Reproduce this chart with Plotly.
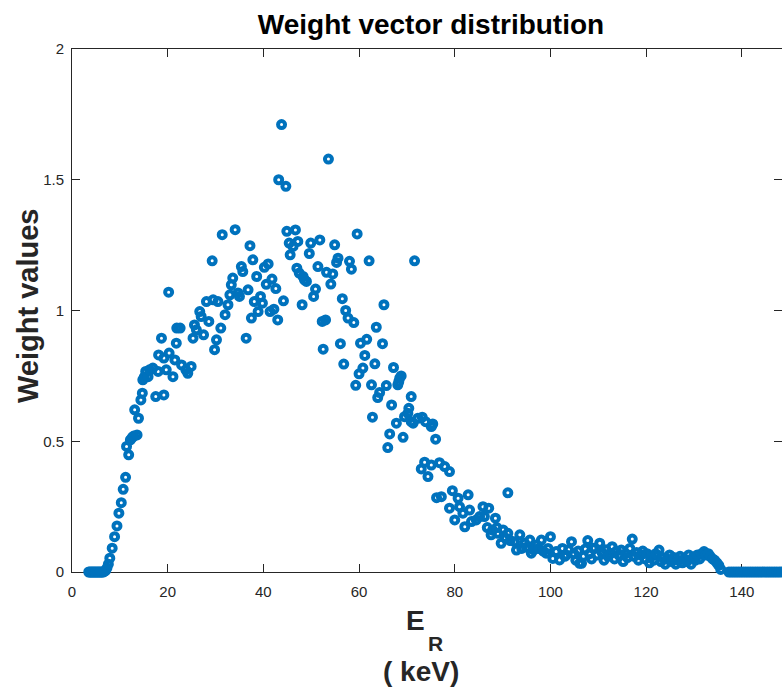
import plotly.graph_objects as go

# ---------------- data ----------------
# energy (keV) and weight value, segment by segment
rise_x = [3.5, 3.75, 4.0, 4.25, 4.5, 4.75, 5.0, 5.25, 5.5, 5.75, 6.0, 6.25, 6.5, 6.75, 7.0,
          7.3, 7.6, 7.9, 8.4, 8.9, 9.4, 9.8, 10.3, 10.7, 11.2, 11.4, 11.85, 12.2, 12.6, 12.9,
          13.1, 13.6, 13.9, 14.4, 14.7, 14.8, 15.1, 15.4, 15.9, 16.2, 16.9, 17.5, 18.0, 18.1,
          18.7, 19.2, 19.2, 19.7, 20.2, 20.3, 21.1, 21.5, 21.8, 21.9, 22.6, 22.9, 23.8, 24.2,
          24.9, 25.3, 25.6, 26.0, 26.7, 27.0, 27.5, 28.1, 28.6, 29.3, 29.5, 29.8, 30.2, 30.5,
          31.1, 31.4, 32.0, 32.6, 33.0, 33.3, 33.6, 34.1, 34.7, 35.0, 35.4, 35.7, 36.4, 36.8]
rise_w = [0, 0, 0, 0, 0, 0, 0, 0, 0, 0, 0, 0, 0, 0.002, 0.005,
          0.015, 0.03, 0.053, 0.091, 0.135, 0.176, 0.225, 0.265, 0.316, 0.362, 0.48, 0.448, 0.505, 0.515, 0.52,
          0.62, 0.524, 0.588, 0.658, 0.684, 0.735, 0.745, 0.767, 0.747, 0.773, 0.78, 0.671, 0.767, 0.83,
          0.894, 0.677, 0.818, 0.773, 1.07, 0.837, 0.747, 0.811, 0.875, 0.933, 0.933, 0.792, 0.773, 0.76,
          0.786, 0.894, 0.945, 0.926, 0.996, 0.977, 0.907, 1.034, 0.958, 1.19, 1.041, 0.85, 0.888, 1.034,
          0.933, 1.29, 0.984, 1.022, 1.06, 1.098, 1.124, 1.309, 1.067, 1.054, 1.168, 1.149, 0.894, 1.079]

peak_x = [37.2, 37.5, 37.8, 38.1, 38.6, 38.9, 39.4, 39.8, 40.2, 40.6, 41.0, 41.4, 41.8, 42.2, 42.6,
          43.0, 43.2, 43.8, 44.2, 44.7, 44.9, 45.4, 45.6, 46.2, 46.7, 47.0, 47.2, 47.5, 48.1, 48.3,
          48.6, 49.0, 49.6, 49.9, 50.5, 50.9, 51.4, 51.8, 52.3, 52.5, 53.0, 53.2, 53.6, 54.1, 54.5,
          54.9, 55.3, 55.6, 56.1, 56.5, 56.8, 57.2, 57.7, 58.0, 58.4, 58.9, 59.3, 59.6, 60.0, 60.3,
          60.8, 61.2, 61.6, 62.1, 62.6, 62.8, 63.3, 63.6, 63.9, 64.3, 64.9, 65.2, 65.7, 66.0, 66.4,
          66.8, 67.2, 67.8, 68.1, 68.3, 68.5, 68.8, 69.2, 69.5, 70.2, 70.4, 70.9, 70.9, 71.3, 71.6]
peak_w = [1.248, 0.971, 1.194, 1.034, 1.13, 0.996, 1.054, 1.028, 1.165, 1.1, 1.178, 0.996, 1.12, 1.005, 1.084,
          0.964, 1.50, 1.711, 1.037, 1.475, 1.303, 1.258, 1.213, 1.245, 1.308, 1.162, 1.264, 1.143, 1.022, 1.13,
          1.117, 1.111, 1.218, 1.258, 1.054, 1.082, 1.168, 1.27, 0.958, 0.852, 0.964, 1.146, 1.579, 1.101, 1.14,
          1.251, 1.184, 1.20, 0.873, 1.045, 0.795, 1.0, 0.971, 1.188, 1.158, 0.954, 0.714, 1.293, 0.758, 0.875,
          0.78, 0.828, 0.89, 1.19, 0.716, 0.592, 0.796, 0.936, 0.667, 0.686, 0.873, 1.022, 0.713, 0.476, 0.528,
          0.639, 0.782, 0.569, 0.716, 0.728, 0.741, 0.75, 0.515, 0.594, 0.607, 0.626, 0.671, 0.575, 0.569, 1.19]

fall_x = [72.3, 73.0, 73.2, 73.7, 73.9, 74.4, 75.1, 75.1, 75.4, 76.0, 76.2, 76.8, 77.2, 77.9, 78.9,
          78.9, 79.5, 80.0, 80.7, 81.0, 81.7, 82.1, 82.8, 83.1, 83.5, 84.5, 85.2, 85.9, 86.2, 86.8,
          87.1, 87.6, 87.9, 88.5, 88.8, 89.0, 89.7, 90.1, 90.6, 91.1, 91.1, 91.6, 92.5, 92.9, 93.6,
          94.0, 94.6, 95.0, 95.7, 96.0, 96.5, 97.1, 97.5, 98.1, 98.5, 99.1, 99.5, 100.0]
fall_w = [0.588, 0.394, 0.592, 0.42, 0.575, 0.365, 0.409, 0.556, 0.566, 0.508, 0.284, 0.418, 0.288, 0.403, 0.384,
          0.244, 0.311, 0.199, 0.282, 0.25, 0.225, 0.173, 0.295, 0.237, 0.193, 0.199, 0.212, 0.25, 0.212, 0.17,
          0.244, 0.142, 0.16, 0.206, 0.17, 0.148, 0.11, 0.161, 0.13, 0.303, 0.148, 0.12, 0.116, 0.084, 0.142,
          0.09, 0.11, 0.095, 0.122, 0.072, 0.085, 0.103, 0.09, 0.122, 0.08, 0.072, 0.09, 0.135]

band_x = [100.5, 101.2, 101.9, 102.5, 103.0, 103.3, 103.8, 104.4, 104.9, 105.3, 105.8, 106.1, 106.5, 106.9,
          107.3, 107.8, 108.2, 108.6, 108.9, 109.2, 109.7, 110.3, 110.8, 111.2, 111.6, 112.0, 112.5, 112.9,
          113.4, 113.8, 114.3, 114.8, 115.2, 115.7, 116.1, 116.6, 117.1, 117.5, 118.0, 118.4, 118.9, 119.3,
          119.8, 120.2, 120.7, 121.1, 121.6, 122.0, 122.7, 123.1, 123.5, 124.0, 124.4, 124.9, 125.3, 125.8,
          126.2, 126.7, 127.1, 127.6, 128.0, 128.5, 128.9, 129.4, 129.8, 130.3, 130.7, 131.2, 131.6, 132.1,
          132.5, 133.0, 133.4, 133.9, 134.3, 134.8, 135.2, 135.6, 135.9]
band_w = [0.052, 0.078, 0.046, 0.09, 0.06, 0.065, 0.085, 0.116, 0.07, 0.045, 0.08, 0.033, 0.033, 0.06,
          0.088, 0.12, 0.07, 0.05, 0.091, 0.091, 0.065, 0.11, 0.075, 0.045, 0.085, 0.06, 0.07, 0.097,
          0.05, 0.08, 0.065, 0.084, 0.04, 0.07, 0.055, 0.09, 0.126, 0.06, 0.075, 0.045, 0.065, 0.08,
          0.05, 0.07, 0.035, 0.06, 0.045, 0.07, 0.084, 0.04, 0.055, 0.03, 0.05, 0.065, 0.04, 0.055,
          0.03, 0.045, 0.06, 0.035, 0.05, 0.04, 0.065, 0.03, 0.055, 0.045, 0.065, 0.05, 0.07, 0.078,
          0.065, 0.07, 0.06, 0.05, 0.045, 0.035, 0.025, 0.01, -0.008]

tail_x = [136.3, 136.8, 137.3, 137.8, 138.3, 138.8, 139.3, 139.8, 140.3, 140.8, 141.3, 141.8, 142.3,
          142.8, 143.3, 143.8, 144.3, 144.8, 145.3, 145.8, 146.3, 146.8, 147.3, 147.8, 148.3, 148.8,
          149.3, 149.8]
tail_w = [-0.004, -0.002, 0, 0, 0, 0, 0, 0, 0, 0, 0, 0, 0,
          0, 0, 0, 0, 0, 0, 0, 0, 0, 0, 0, 0, 0,
          0, 0]

x_ticks = [0, 20, 40, 60, 80, 100, 120, 140]
y_ticks = [0, 0.5, 1, 1.5, 2]
y_tick_labels = ["0", "0.5", "1", "1.5", "2"]
y_right_ticks = [0.5, 1, 1.5]

energy = rise_x + peak_x + fall_x + band_x + tail_x
weights = rise_w + peak_w + fall_w + band_w + tail_w

# ---------------- figure ----------------
AX = "#262626"
FONT = "Liberation Sans, Arial, Helvetica, sans-serif"
BLUE = "#0072BD"

fig = go.Figure()
fig.add_trace(go.Scatter(
    x=energy, y=weights, mode="markers", cliponaxis=False,
    marker=dict(symbol="circle-open", size=7, color=BLUE, line=dict(width=4, color=BLUE)),
    showlegend=False, hoverinfo="x+y"))
fig.add_trace(go.Scatter(x=[], y=[], yaxis="y2", showlegend=False))

W, H = 782, 689
L, R, T, B = 72, 0, 49, 117
pw, ph = W - L - R, H - T - B

def px_x(p):
    return (p - L) / pw

def px_y(p):
    return (H - B - p) / ph

fig.update_layout(
    width=W, height=H,
    margin=dict(l=L, r=R, t=T, b=B),
    paper_bgcolor="white", plot_bgcolor="white",
    font=dict(family=FONT, color=AX),
    title=dict(text="<b>Weight vector distribution</b>", x=431 / W, xref="container", xanchor="center",
               y=1 - 24 / H, yref="container", yanchor="middle",
               font=dict(size=28, color="black", family=FONT)),
    xaxis=dict(range=[0, 148.4], tickvals=x_ticks, ticks="inside", ticklen=8, tickwidth=1,
               tickcolor=AX, showline=True, linecolor=AX, linewidth=1, mirror="ticks",
               showgrid=False, zeroline=False, tickfont=dict(size=15, color=AX),
               ticklabelstandoff=6, layer="below traces"),
    yaxis=dict(range=[0, 2], tickvals=y_ticks, ticktext=y_tick_labels, ticks="inside", ticklen=8,
               tickwidth=1, tickcolor=AX, showline=True, linecolor=AX, linewidth=1, mirror=False,
               showgrid=False, zeroline=False, tickfont=dict(size=15, color=AX),
               ticklabelstandoff=4, layer="below traces"),
    yaxis2=dict(range=[0, 2], overlaying="y", side="right", tickvals=y_right_ticks, ticks="inside",
                ticklen=8, tickwidth=1, tickcolor=AX, showline=False, showgrid=False, zeroline=False,
                showticklabels=False, layer="below traces"),
    annotations=[
        dict(text="<b>Weight values</b>", textangle=-90, xref="paper", yref="paper",
             x=px_x(28), y=px_y(306), xanchor="center", yanchor="middle", showarrow=False,
             font=dict(size=29, color=AX, family=FONT)),
        dict(text="<b>E</b>", xref="paper", yref="paper", x=px_x(415.5), y=px_y(620),
             xanchor="center", yanchor="middle", showarrow=False,
             font=dict(size=28, color=AX, family=FONT)),
        dict(text="<b>R</b>", xref="paper", yref="paper", x=px_x(435), y=px_y(643),
             xanchor="center", yanchor="middle", showarrow=False,
             font=dict(size=21, color=AX, family=FONT)),
        dict(text="<b>( keV)</b>", xref="paper", yref="paper", x=px_x(421), y=px_y(671),
             xanchor="center", yanchor="middle", showarrow=False,
             font=dict(size=28, color=AX, family=FONT)),
    ],
)

fig.write_html("out.html")
